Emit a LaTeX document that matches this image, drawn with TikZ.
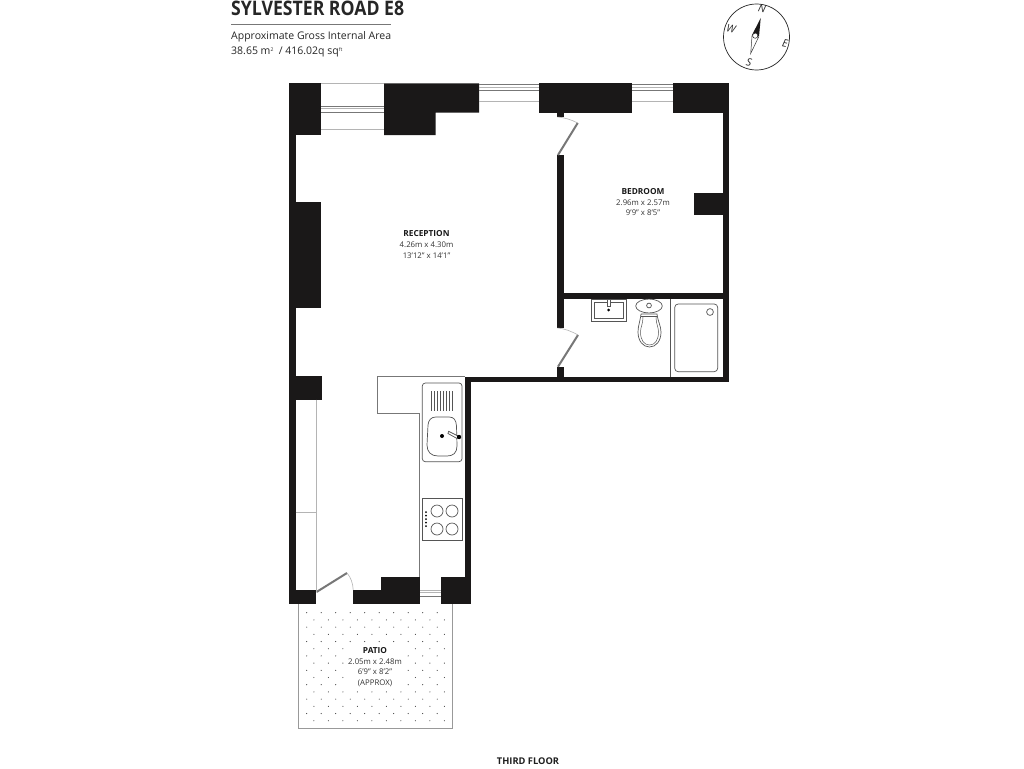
\documentclass[tikz,border=0pt]{standalone}
\usepackage{fontspec}
\setmainfont{Open Sans}
\definecolor{wallc}{HTML}{1A1818}
\definecolor{lightg}{HTML}{B4B4B4}
\definecolor{midg}{HTML}{777777}
\definecolor{fixc}{HTML}{555555}
\tikzset{
  wall/.style={fill=wallc,draw=none},
  lightline/.style={draw=lightg,line width=0.9pt},
  glass/.style={draw=midg,line width=0.9pt},
  leaf/.style={draw=midg,line width=2pt},
  swing/.style={draw=lightg,line width=0.6pt},
  fixture/.style={draw=fixc,line width=0.7pt},
  roomname/.style={font=\fontsize{8.3}{9.5}\selectfont\bfseries,inner sep=0pt,text=black!90},
  roomtext/.style={font=\fontsize{7.8}{9.5}\selectfont,inner sep=0pt,text=black!80},
  infotext/.style={font=\fontsize{10.5}{12}\selectfont,inner sep=0pt,anchor=base west,text=black!85},
  compassletter/.style={font=\fontsize{10.5}{11}\selectfont\itshape,inner sep=0pt,text=black!85},
}
\begin{document}
\begin{tikzpicture}[x=1pt,y=-1pt]
\useasboundingbox (0,0) rectangle (1024,768);
\fill[white] (0,0) rectangle (1024,768);
% header
\node[font=\fontsize{20}{22}\selectfont\bfseries,inner sep=0pt,anchor=base west,text=black!85,xscale=0.883] (title) at (231,16) {SYLVESTER ROAD E8};
\draw[draw=midg,line width=0.7pt] (231,24) -- (391,24);
\node[infotext] (area1) at (231,40) {Approximate Gross Internal Area};
\node[infotext] (area2) at (231,55) {38.65 m\raisebox{3pt}{\fontsize{5}{5}\selectfont 2} \ / 416.02q sq\raisebox{3.5pt}{\fontsize{5}{5}\selectfont ft}};
% compass
\draw[draw=black!85,line width=0.7pt] (756.5,37) circle[radius=33];
\fill[wallc] (760.7,18) -- (751.8,35.5) -- (759,36.5) -- cycle;
\draw[draw=black!80,line width=0.5pt,fill=white] (752,36) -- (750.7,53.5) -- (758.6,37) -- cycle;
\draw[draw=black!85,line width=0.5pt,fill=white] (755.2,35.7) circle[radius=2.6];
\node[compassletter,rotate=-12] (cn) at (762,8.5) {N};
\node[compassletter,rotate=-12] (ce) at (785,43) {E};
\node[compassletter,rotate=-12] (cs) at (749,62.5) {S};
\node[compassletter,rotate=-12] (cw) at (731,29) {W};
% walls
\fill[wall] (288.5,83.3) rectangle (321,135);
\fill[wall] (288.5,135) rectangle (295.7,604.3);
\fill[wall] (384,83.3) -- (479,83.3) -- (479,112.7) -- (435.5,112.7) -- (435.5,135) -- (384,135) -- cycle;
\fill[wall] (539,83.3) rectangle (632.3,112.7);
\fill[wall] (673,83.3) rectangle (729,112.7);
\fill[wall] (722.7,112.7) rectangle (729,382);
\fill[wall] (693.5,193) rectangle (722.7,214.7);
\fill[wall] (295.7,201.7) rectangle (321,308);
\fill[wall] (295.7,376) rectangle (321.7,399.5);
\fill[wall] (557.2,112.7) rectangle (564,117);
\fill[wall] (557.2,155) rectangle (564,328);
\fill[wall] (557.2,292.7) rectangle (722.7,299);
\fill[wall] (557.2,367) rectangle (564,377);
\fill[wall] (464.7,376.7) rectangle (729,382);
\fill[wall] (464.7,376.7) rectangle (471,604.3);
\fill[wall] (441,576.7) rectangle (471,604.3);
\fill[wall] (380.7,576.7) rectangle (420,604.3);
\fill[wall] (353.3,590) rectangle (380.7,604.3);
\fill[wall] (288.5,590) rectangle (316,604.3);
% windows
\draw[lightline] (321,83.6) -- (384,83.6);
\draw[lightline] (321,129) -- (384,129);
\draw[glass] (321,106) -- (384,106);
\draw[lightline] (321,108.5) -- (384,108.5);
\draw[glass] (321,112) -- (384,112);
\draw[glass] (479,84) -- (539,84);
\draw[lightline] (479,87) -- (539,87);
\draw[glass] (479,90) -- (539,90);
\draw[lightline] (479,101.5) -- (539,101.5);
\draw[glass] (632.3,84) -- (673,84);
\draw[lightline] (632.3,87) -- (673,87);
\draw[glass] (632.3,90) -- (673,90);
\draw[lightline] (632.3,101.5) -- (673,101.5);
\draw[lightline] (420,590) -- (441,590);
\draw[lightline] (420,592.5) -- (441,592.5);
\draw[glass] (420,596) -- (441,596);
% doors
\draw[leaf] (558,155) -- (577.7,123);
\draw[swing] (577.7,123) .. controls (571,119.5) and (564,117.5) .. (557.5,117);
\draw[leaf] (558,366.7) -- (578,335);
\draw[swing] (578,335) .. controls (571,331) and (564,328.5) .. (557.5,328);
\draw[leaf] (316.5,592) -- (347,573);
\draw[swing] (347,573) .. controls (350.5,577) and (353,583) .. (353.2,590);
% kitchen units
\draw[lightline] (316,399.5) -- (316,592);
\draw[lightline] (295.7,512) -- (316,512);
\draw[draw=midg,line width=0.7pt] (464.7,376.4) -- (377.3,376.4) -- (377.3,413) -- (419.5,413) -- (419.5,576.7);
\draw[fixture,rounded corners=3pt] (422.3,383) rectangle (462,461.7);
\foreach \xx in {431.5,434.5,...,453}{\draw[draw=fixc,line width=0.5pt] (\xx,391) -- (\xx,411);}
\draw[fixture] (436,417) -- (449,417) .. controls (454,417) and (456,420) .. (456.5,426) -- (457,446) .. controls (457,453) and (453,456) .. (447,456) -- (438,456) .. controls (431,456) and (427,452) .. (427,445) -- (428,425) .. controls (428.5,420) and (431,417) .. (436,417) -- cycle;
\fill[black] (442,436) circle[radius=2];
\draw[fixture,fill=white] (448.6,431.3) -- (458,436) -- (457,438.5) -- (448,433.5) -- cycle;
\fill[black] (459,437) circle[radius=2.2];
\draw[fixture] (422.3,498) rectangle (462,540.7);
\foreach \bx/\by in {437/511,452/511,437/529,452/529}{\draw[fixture] (\bx,\by) circle[radius=6];}
\foreach \dy in {512,515.5,519,522.5,526}{\fill[black] (426,\dy) circle[radius=1];}
% bathroom
\draw[fixture] (591.7,299) rectangle (626,321.3);
\draw[fixture] (594.3,302) rectangle (623,318);
\draw[fixture,fill=white] (607,299.5) rectangle (610,306);
\fill[black] (608.5,310) circle[radius=1.5];
\draw[fixture] (649,306) ellipse[x radius=13.3,y radius=6.9];
\draw[fixture] (649,305.5) circle[radius=2.4];
\draw[fixture] (641,314) -- (657,314) .. controls (658,322) and (661,326) .. (661,332) .. controls (661,341) and (656,347) .. (649.5,347) .. controls (643,347) and (638,341) .. (638,332) .. controls (638,326) and (640,322) .. (641,314);
\draw[fixture,line width=0.5pt] (643,317) .. controls (643,324) and (640.5,327) .. (640.5,332) .. controls (640.5,340) and (644,345) .. (649.5,345) .. controls (655,345) and (658.5,340) .. (658.5,332) .. controls (658.5,327) and (656,324) .. (656,317);
\draw[fixture] (641,316.5) -- (657,316.5);
\draw[fixture] (670.3,299) -- (670.3,376.7);
\draw[fixture,rounded corners=3.5pt] (674.7,304) rectangle (717.7,371.7);
\draw[fixture] (710,312) circle[radius=3.4];
% patio
\draw[draw=lightg!85!black,line width=1.2pt] (298.3,604.3) -- (298.3,728.5) -- (452.3,728.5) -- (452.3,604.3);
\foreach \r in {0,2,...,14}{\foreach \k in {0,...,9}{
  \pgfmathsetmacro{\dotx}{306.7+14.5*\k}\pgfmathsetmacro{\doty}{612.7+7.2*\r}
  \pgfmathparse{(\dotx>345 && \dotx<405 && \doty>646 && \doty<688)?1:0}
  \ifnum\pgfmathresult=0 \fill[black!80] (\dotx,\doty) circle[radius=0.55];\fi}}
\foreach \r in {1,3,...,15}{\foreach \k in {0,...,9}{
  \pgfmathsetmacro{\dotx}{313.9+14.5*\k}\pgfmathsetmacro{\doty}{612.7+7.2*\r}
  \pgfmathparse{(\dotx>345 && \dotx<405 && \doty>646 && \doty<688)?1:0}
  \ifnum\pgfmathresult=0 \fill[black!80] (\dotx,\doty) circle[radius=0.55];\fi}}
% room labels
\node[roomname] (receptionname) at (426.5,234) {RECEPTION};
\node[roomtext] (receptiona) at (426.5,244.5) {4.26m x 4.30m};
\node[roomtext] (receptionb) at (426.5,255.5) {13'12" x 14'1"};
\node[roomname] (bedroomname) at (643,192) {BEDROOM};
\node[roomtext] (bedrooma) at (643,202.5) {2.96m x 2.57m};
\node[roomtext] (bedroomb) at (643,213) {9'9" x 8'5"};
\node[roomname] (pationame) at (375,650.5) {PATIO};
\node[roomtext] (patioa) at (375,661.5) {2.05m x 2.48m};
\node[roomtext] (patiob) at (375,672) {6'9" x 8'2"};
\node[roomtext] (patioc) at (375,683) {(APPROX)};
\node[font=\fontsize{9.3}{11}\selectfont\bfseries,inner sep=0pt,text=black!88] (floorlabel) at (528,761) {THIRD FLOOR};
\end{tikzpicture}
\end{document}
